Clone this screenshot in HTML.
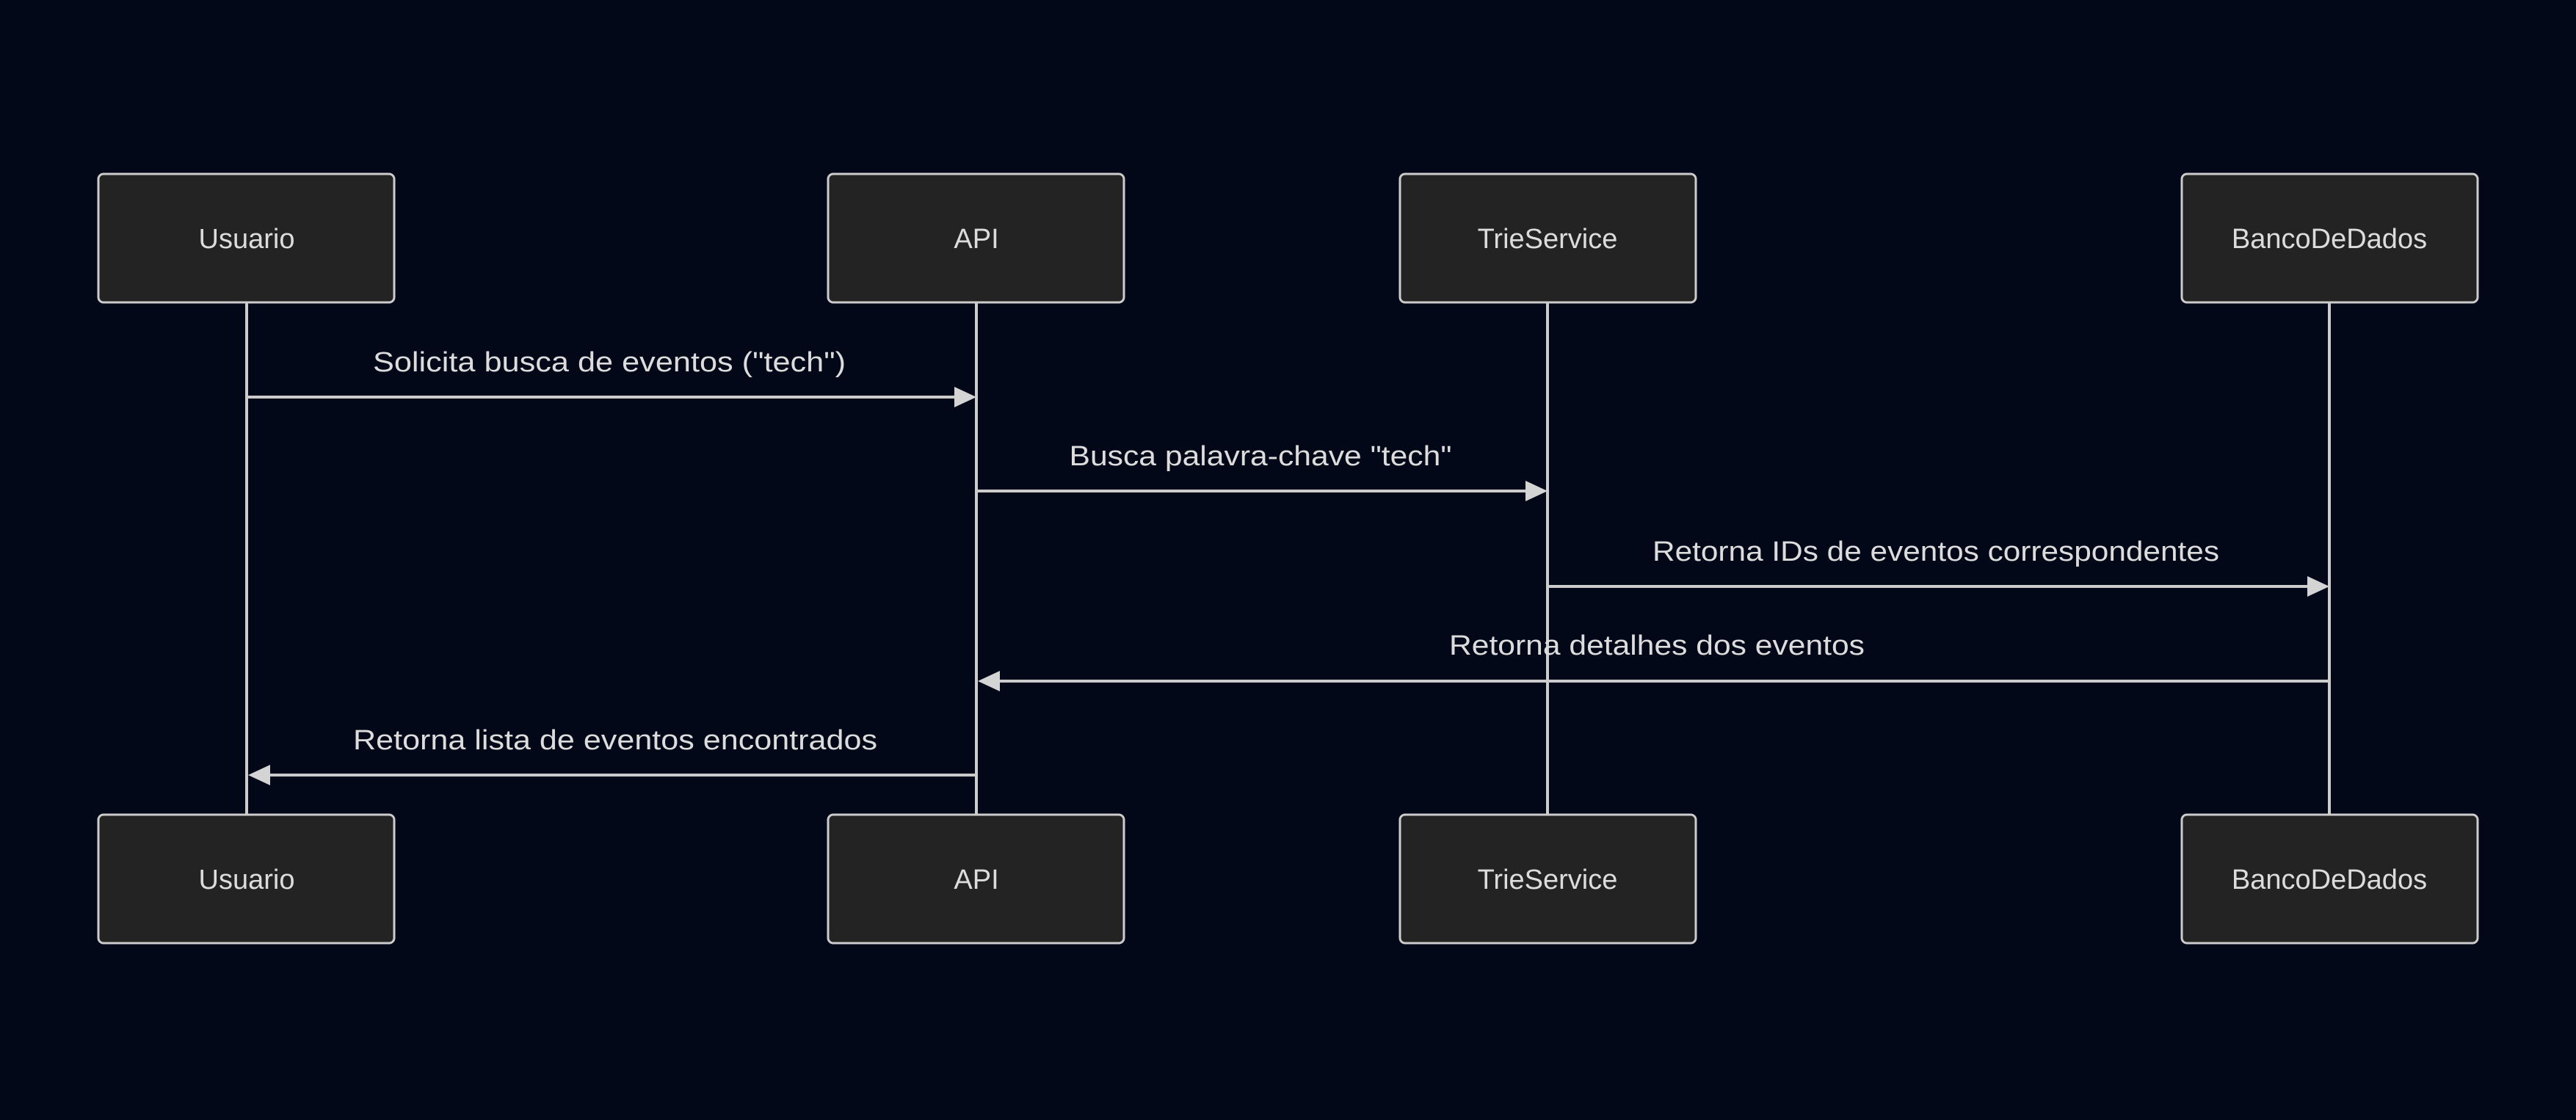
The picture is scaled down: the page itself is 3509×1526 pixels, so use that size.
<!DOCTYPE html>
<html><head><meta charset="utf-8"><style>
html,body{margin:0;padding:0;background:#020817;}
svg{display:block}
text{font-family:"Liberation Sans","DejaVu Sans",sans-serif;fill:#dcdcdc;font-size:38px;}
</style></head><body>
<svg width="3509" height="1526" viewBox="0 0 3509 1526" xmlns="http://www.w3.org/2000/svg">
<rect width="3509" height="1526" fill="#020817"/>
<g stroke="#cccccc" stroke-width="4">
<line x1="336" y1="412" x2="336" y2="1110"/>
<line x1="1330" y1="412" x2="1330" y2="1110"/>
<line x1="2108" y1="412" x2="2108" y2="1110"/>
<line x1="3173" y1="412" x2="3173" y2="1110"/>
</g>
<g fill="#222322" stroke="#cccccc" stroke-width="3">
<rect x="134" y="237" width="403" height="175" rx="7"/>
<rect x="1128" y="237" width="403" height="175" rx="7"/>
<rect x="1907" y="237" width="403" height="175" rx="7"/>
<rect x="2972" y="237" width="403" height="175" rx="7"/>
<rect x="134" y="1110" width="403" height="175" rx="7"/>
<rect x="1128" y="1110" width="403" height="175" rx="7"/>
<rect x="1907" y="1110" width="403" height="175" rx="7"/>
<rect x="2972" y="1110" width="403" height="175" rx="7"/>
</g>
<g text-anchor="middle">
<text x="336" y="338">Usuario</text>
<text x="1330" y="338">API</text>
<text x="2108" y="338">TrieService</text>
<text x="3173" y="338">BancoDeDados</text>
<text x="336" y="1211">Usuario</text>
<text x="1330" y="1211">API</text>
<text x="2108" y="1211">TrieService</text>
<text x="3173" y="1211">BancoDeDados</text>
<text x="830" y="506" textLength="644" lengthAdjust="spacingAndGlyphs">Solicita busca de eventos ("tech")</text>
<text x="1717" y="634" textLength="521" lengthAdjust="spacingAndGlyphs">Busca palavra-chave "tech"</text>
<text x="2637" y="764" textLength="772" lengthAdjust="spacingAndGlyphs">Retorna IDs de eventos correspondentes</text>
<text x="2257" y="892" textLength="566" lengthAdjust="spacingAndGlyphs">Retorna detalhes dos eventos</text>
<text x="838" y="1021" textLength="714" lengthAdjust="spacingAndGlyphs">Retorna lista de eventos encontrados</text>
</g>
<g stroke="#cccccc" stroke-width="4">
<line x1="336" y1="541" x2="1302" y2="541"/>
<line x1="1330" y1="669" x2="2080" y2="669"/>
<line x1="2108" y1="799" x2="3145" y2="799"/>
<line x1="3173" y1="928" x2="1358" y2="928"/>
<line x1="1330" y1="1056" x2="364" y2="1056"/>
</g>
<g fill="#d4d4d4">
<polygon points="1330,541 1300,527 1300,555"/>
<polygon points="2108,669 2078,655 2078,683"/>
<polygon points="3173,799 3143,785 3143,813"/>
<polygon points="1332,928 1362,914 1362,942"/>
<polygon points="338,1056 368,1042 368,1070"/>
</g>
</svg>
</body></html>
